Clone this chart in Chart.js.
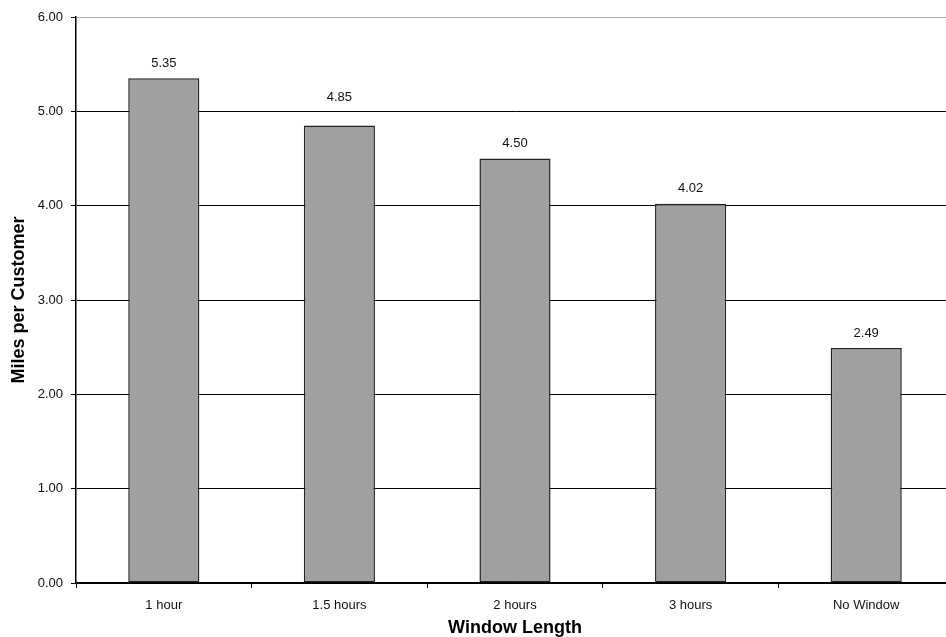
<!DOCTYPE html>
<html>
<head>
<meta charset="utf-8">
<script src="https://cdn.jsdelivr.net/npm/chart.js@4/dist/chart.umd.min.js"></script>
<style>
  html, body { margin: 0; padding: 0; background: #fff; overflow: hidden; }
  #wrap { width: 960px; height: 637px; }
</style>
</head>
<body>
<div id="wrap"><canvas id="chart" width="960" height="637"></canvas></div>
<script>
// Average miles driven per customer for each delivery window length
const categories = ['1 hour', '1.5 hours', '2 hours', '3 hours', 'No Window'];
const milesPerCustomer = [5.35, 4.85, 4.50, 4.02, 2.49];
const yTicks = [0, 1, 2, 3, 4, 5, 6];

const FONT = 'Liberation Sans, Arial, sans-serif';

// Writes each bar's value just above it, lifting it clear of a gridline it would sit on
const valueLabels = {
  id: 'valueLabels',
  afterDatasetsDraw(chart) {
    const { ctx } = chart;
    const yScale = chart.scales.y;
    const meta = chart.getDatasetMeta(0);
    ctx.save();
    ctx.font = '13px ' + FONT;
    ctx.fillStyle = '#111';
    ctx.textAlign = 'center';
    ctx.textBaseline = 'middle';
    meta.data.forEach((bar, i) => {
      let cy = bar.y - 15;
      yTicks.forEach(t => {
        const gy = yScale.getPixelForValue(t);
        if (Math.abs(gy - cy) < 8) cy = gy - 14;
      });
      ctx.fillText(milesPerCustomer[i].toFixed(2), bar.x, cy);
    });
    ctx.restore();
  }
};

new Chart(document.getElementById('chart'), {
  type: 'bar',
  data: {
    labels: categories,
    datasets: [{
      data: milesPerCustomer,
      backgroundColor: '#a0a0a0',
      borderColor: '#222',
      borderWidth: 1.5,
      borderSkipped: false,
      categoryPercentage: 1,
      barPercentage: 0.405
    }]
  },
  options: {
    responsive: false,
    devicePixelRatio: 1,
    animation: false,
    layout: { padding: { left: 0, top: 17, right: 6, bottom: 0 } },
    plugins: {
      legend: { display: false },
      tooltip: { enabled: false },
      title: { display: false }
    },
    scales: {
      x: {
        afterFit(scale) { scale.height = 54; },
        grid: {
          offset: true,
          drawOnChartArea: false,
          drawTicks: true,
          tickLength: 5,
          tickColor: '#000'
        },
        border: { color: '#000', width: 1.5 },
        ticks: {
          color: '#111',
          font: { family: FONT, size: 13 },
          padding: 10,
          maxRotation: 0
        },
        title: {
          display: true,
          text: 'Window Length',
          color: '#000',
          font: { family: FONT, size: 18, weight: 'bold' },
          padding: { top: 0, bottom: -2 }
        }
      },
      y: {
        min: 0,
        max: 6,
        afterFit(scale) { scale.width = 76; },
        afterBuildTicks(scale) { scale.ticks = yTicks.map(v => ({ value: v })); },
        grid: {
          color: ctx => (ctx.tick && ctx.tick.value === 6 ? '#aaa' : '#000'),
          tickColor: '#000',
          tickLength: 5,
          lineWidth: 1
        },
        border: { color: '#000', width: 1.5 },
        ticks: {
          color: '#111',
          font: { family: FONT, size: 13 },
          padding: 8,
          callback: v => Number(v).toFixed(2)
        },
        title: {
          display: true,
          text: 'Miles per Customer',
          color: '#000',
          font: { family: FONT, size: 18, weight: 'bold' },
          padding: { top: 8, bottom: 0 }
        }
      }
    }
  },
  plugins: [valueLabels]
});
</script>
</body>
</html>
